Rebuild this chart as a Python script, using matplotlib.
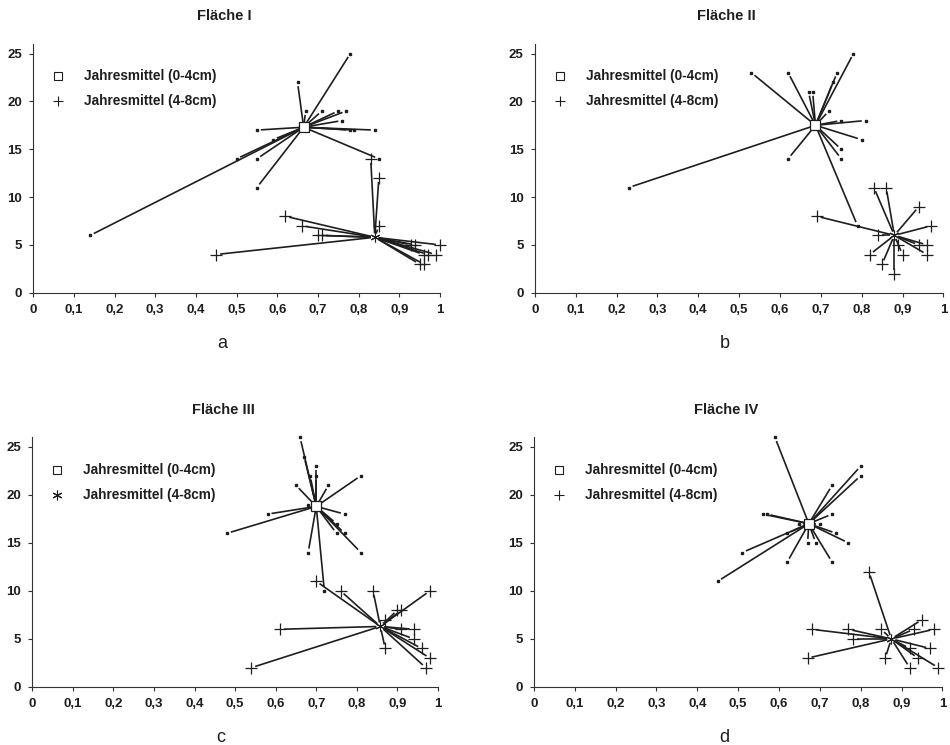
import matplotlib
matplotlib.use("Agg")
import matplotlib.pyplot as plt
import numpy as np

plt.rcParams["font.family"] = ["Liberation Sans", "DejaVu Sans"]

# ---- data ----
# Fläche I
a_top_x = [0.78, 0.65, 0.67, 0.71, 0.75, 0.77, 0.76, 0.55, 0.78, 0.79, 0.84, 0.59, 0.50, 0.55, 0.55, 0.14, 0.85]
a_top_y = [25, 22, 19, 19, 19, 19, 18, 17, 17, 17, 17, 16, 14, 14, 11, 6, 14]
a_top_mean = (0.665, 17.3)
a_sub_x = [0.83, 0.85, 0.85, 0.62, 0.66, 0.70, 0.71, 0.45, 0.93, 0.94, 1.00, 0.96, 0.97, 0.99, 0.95, 0.96]
a_sub_y = [14, 12, 7, 8, 7, 6, 6, 4, 5, 5, 5, 4, 4, 4, 3, 3]
a_sub_mean = (0.84, 5.8)

# Fläche II
b_top_x = [0.53, 0.62, 0.74, 0.78, 0.67, 0.68, 0.73, 0.72, 0.75, 0.81, 0.80, 0.75, 0.75, 0.62, 0.23, 0.79, 0.68]
b_top_y = [23, 23, 23, 25, 21, 21, 22, 19, 18, 18, 16, 15, 14, 14, 11, 7, 18]
b_top_mean = (0.687, 17.5)
b_sub_x = [0.83, 0.86, 0.94, 0.97, 0.69, 0.84, 0.89, 0.94, 0.96, 0.82, 0.90, 0.96, 0.85, 0.88]
b_sub_y = [11, 11, 9, 7, 8, 6, 5, 5, 5, 4, 4, 4, 3, 2]
b_sub_mean = (0.88, 6.0)

# Fläche III
c_top_x = [0.66, 0.67, 0.70, 0.685, 0.70, 0.81, 0.65, 0.73, 0.68, 0.58, 0.77, 0.75, 0.75, 0.77, 0.48, 0.68, 0.81, 0.72]
c_top_y = [26, 24, 23, 22, 22, 22, 21, 21, 19, 18, 18, 17, 16, 16, 16, 14, 14, 10]
c_top_mean = (0.70, 18.8)
c_sub_x = [0.70, 0.76, 0.84, 0.98, 0.90, 0.91, 0.87, 0.61, 0.91, 0.94, 0.94, 0.96, 0.87, 0.98, 0.97, 0.54]
c_sub_y = [11, 10, 10, 10, 8, 8, 7, 6, 6, 6, 5, 4, 4, 3, 2, 2]
c_sub_mean = (0.858, 6.3)

# Fläche IV
d_top_x = [0.59, 0.80, 0.80, 0.73, 0.73, 0.56, 0.57, 0.65, 0.70, 0.62, 0.74, 0.67, 0.69, 0.77, 0.51, 0.62, 0.73, 0.45]
d_top_y = [26, 23, 22, 21, 18, 18, 18, 17, 17, 16, 16, 15, 15, 15, 14, 13, 13, 11]
d_top_mean = (0.673, 17.0)
d_sub_x = [0.82, 0.95, 0.68, 0.77, 0.85, 0.93, 0.98, 0.78, 0.92, 0.97, 0.67, 0.86, 0.94, 0.92, 0.99]
d_sub_y = [12, 7, 6, 6, 6, 6, 6, 5, 4, 4, 3, 3, 3, 2, 2]
d_sub_mean = (0.875, 5.0)

titles = ["Fläche I", "Fläche II", "Fläche III", "Fläche IV"]
letters = ["a", "b", "c", "d"]
legend_labels = ["Jahresmittel (0-4cm)", "Jahresmittel (4-8cm)"]
ASTERISK = (6, 2, 0)
legend_sub_marker = ["+", "+", ASTERISK, "+"]
x_ticks = [0, 0.1, 0.2, 0.3, 0.4, 0.5, 0.6, 0.7, 0.8, 0.9, 1]
x_ticklabels = ["0", "0,1", "0,2", "0,3", "0,4", "0,5", "0,6", "0,7", "0,8", "0,9", "1"]
y_ticks = [0, 5, 10, 15, 20, 25]

panels = [
    (a_top_x, a_top_y, a_top_mean, a_sub_x, a_sub_y, a_sub_mean),
    (b_top_x, b_top_y, b_top_mean, b_sub_x, b_sub_y, b_sub_mean),
    (c_top_x, c_top_y, c_top_mean, c_sub_x, c_sub_y, c_sub_mean),
    (d_top_x, d_top_y, d_top_mean, d_sub_x, d_sub_y, d_sub_mean),
]

# axes boxes in figure fraction (left, bottom, width, height)
boxes = [
    (0.035, 0.607, 0.428, 0.334),
    (0.563, 0.607, 0.430, 0.334),
    (0.034, 0.078, 0.427, 0.335),
    (0.562, 0.078, 0.430, 0.335),
]

INK = "#1e1e1e"
GAP_PX = 4


def star_lines(ax, xs, ys, mean):
    # line from the mean to each point, with a small gap at both ends
    m = ax.transData.transform(mean)
    inv = ax.transData.inverted()
    for x, y in zip(xs, ys):
        p = ax.transData.transform((x, y))
        d = p - m
        length = np.hypot(*d)
        if length <= 2 * GAP_PX:
            continue
        u = d / length
        s = inv.transform(m + u * GAP_PX)
        e = inv.transform(p - u * GAP_PX)
        ax.plot([s[0], e[0]], [s[1], e[1]], color=INK, lw=1.2,
                solid_capstyle="butt", clip_on=False)


fig = plt.figure(figsize=(9.5, 7.45), dpi=100)

for i, (tx, ty, tm, sx, sy, sm) in enumerate(panels):
    ax = fig.add_axes(boxes[i])
    ax.set_xlim(0, 1)
    ax.set_ylim(0, 26)
    for side in ["top", "right"]:
        ax.spines[side].set_visible(False)
    ax.spines["left"].set_color("#333333")
    ax.spines["bottom"].set_color("#333333")
    ax.set_xticks(x_ticks)
    ax.set_xticklabels(x_ticklabels)
    ax.set_yticks(y_ticks)
    ax.tick_params(length=3, width=0.8, color="#333333", labelsize=9.5, pad=5)
    for lbl in ax.get_xticklabels() + ax.get_yticklabels():
        lbl.set_fontweight("bold")
        lbl.set_color(INK)

    star_lines(ax, tx, ty, tm)
    star_lines(ax, sx, sy, sm)

    ax.plot(tx, ty, "s", ms=2, color=INK, clip_on=False)
    ax.plot(sx, sy, "+", ms=8, mew=0.9, color=INK, clip_on=False)
    ax.plot(*tm, "s", ms=7, mfc="white", mec=INK, mew=0.9)
    ax.plot(*sm, marker=ASTERISK, ms=7, mec=INK, mew=0.8)

    # legend
    ax.plot(0.062, 22.6, "s", ms=6, mfc="white", mec=INK, mew=0.8)
    ax.plot(0.062, 20.0, marker=legend_sub_marker[i], ms=7, mew=0.8, mec=INK)
    ax.text(0.125, 22.6, legend_labels[0], fontsize=9.8, fontweight="bold",
            va="center", ha="left", color=INK)
    ax.text(0.125, 20.0, legend_labels[1], fontsize=9.8, fontweight="bold",
            va="center", ha="left", color=INK)

    ax.set_title(titles[i], fontsize=10.5, fontweight="bold", pad=17, color=INK, x=0.47)
    ax.set_xlabel(letters[i], fontsize=13, labelpad=14, color=INK, x=0.465)

fig.savefig("out.png", dpi=100)
